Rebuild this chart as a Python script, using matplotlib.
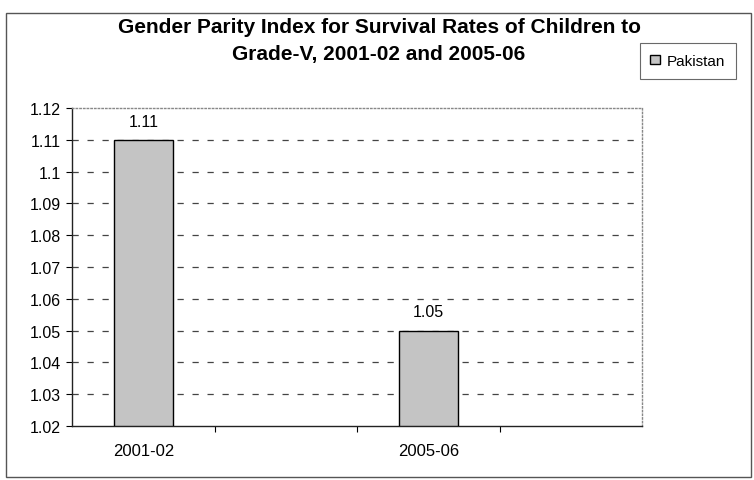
import matplotlib.pyplot as plt
from matplotlib.patches import Rectangle

plt.rcParams['font.family'] = ['Liberation Sans', 'DejaVu Sans']

# data
categories = ['2001-02', '', '2005-06', '']
values = [1.11, None, 1.05, None]
series_name = 'Pakistan'
yticks = [1.02, 1.03, 1.04, 1.05, 1.06, 1.07, 1.08, 1.09, 1.1, 1.11, 1.12]
ytick_labels = ['1.02', '1.03', '1.04', '1.05', '1.06', '1.07', '1.08', '1.09', '1.1', '1.11', '1.12']
title = 'Gender Parity Index for Survival Rates of Children to\nGrade-V, 2001-02 and 2005-06'

W, H = 754, 481
fig = plt.figure(figsize=(W / 100, H / 100), dpi=100)
ax = fig.add_axes([72 / W, 1 - 427 / H, 570 / W, 318 / H])

xs = [i for i, v in enumerate(values) if v is not None]
vs = [v for v in values if v is not None]
bars = ax.bar(xs, [v - yticks[0] for v in vs], bottom=yticks[0], width=0.414,
              color='#c4c4c4', edgecolor='black', linewidth=1.0, zorder=3,
              label=series_name)
for x, v in zip(xs, vs):
    ax.annotate(f'{v:.2f}', (x, v), xytext=(0, 8), textcoords='offset points',
                ha='center', va='bottom', fontsize=11.5)

ax.set_xlim(-0.5, len(categories) - 0.5)
ax.set_ylim(yticks[0], yticks[-1])
ax.set_yticks(yticks)
ax.set_yticklabels(ytick_labels, fontsize=11.5)
ax.set_xticks(range(len(categories)))
ax.set_xticklabels(categories, fontsize=12)
ax.tick_params(axis='x', length=0, pad=12)
ax.set_xticks([i + 0.5 for i in range(len(categories) - 1)], minor=True)
ax.tick_params(axis='x', which='minor', length=4, width=0.8, direction='out')
ax.tick_params(axis='y', length=4, width=0.8, direction='out', pad=4)

for y in yticks[1:-1]:
    ax.axhline(y, color='#444444', linestyle=(0, (5, 7)), linewidth=0.9, zorder=1)

for side in ['top', 'right']:
    ax.spines[side].set_color('#888888')
    ax.spines[side].set_linestyle(':')
    ax.spines[side].set_linewidth(1.0)
for side in ['left', 'bottom']:
    ax.spines[side].set_color('#222222')
    ax.spines[side].set_linewidth(1.0)

fig.text(379 / W, 1 - 41 / H, title, ha='center', va='center',
         fontsize=15, fontweight='bold', linespacing=1.55)

leg = fig.legend(handles=[bars], loc='center', bbox_to_anchor=(688 / W, 1 - 62 / H),
                 fontsize=11, frameon=True, fancybox=False, handlelength=0.6,
                 handleheight=0.6, handletextpad=0.5, borderpad=0.7)
leg.get_frame().set_edgecolor('#444444')
leg.get_frame().set_linewidth(0.8)

fig.patches.append(Rectangle((6 / W, 1 - 478 / H), 745 / W, 464 / H,
                             transform=fig.transFigure, fill=False,
                             edgecolor='#555555', linewidth=1.0))

fig.savefig('out.png', dpi=100)
